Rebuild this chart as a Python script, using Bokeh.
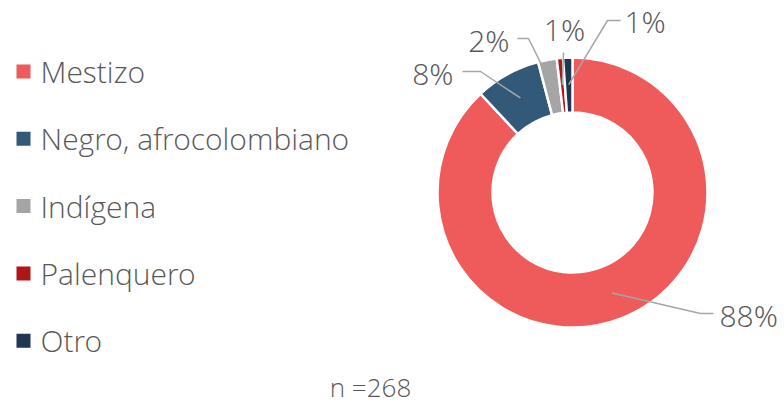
import math
from bokeh.plotting import figure
from bokeh.models import Range1d
from bokeh.core.properties import value
from bokeh.embed import file_html
from bokeh.resources import INLINE

# ---- data ----
categories = ["Mestizo", "Negro, afrocolombiano", "Indígena", "Palenquero", "Otro"]
counts = [236, 21, 6, 2, 3]
n_total = 268
colors = ["#EF5A5B", "#325A78", "#A5A5A5", "#B01518", "#1F3750"]

# ---- layout (page pixels, y down) ----
W, H = 784, 403
FONT = "Open Sans Light"
TXT = "#595959"
cx_s, cy_s = 572, 192
r_out, r_in = 135, 80
r_lead = 108
elbow1 = [(700, 313), (480, 71), (528, 38), (563, 52), (607, 20)]
elbow2 = [(713, 313), (462, 71), (517, 38), (563, 52), (620, 20)]
label_pos = [(719, 315), (453, 73), (509, 40), (564, 29), (624, 21)]
label_align = ["left", "right", "right", "center", "left"]

def X(sx):
    return sx

def Y(sy):
    return H - sy

p = figure(width=W, height=H, output_backend="svg", toolbar_location=None,
           x_range=Range1d(0, W), y_range=Range1d(0, H), min_border=0)
p.axis.visible = False
p.grid.visible = False
p.outline_line_color = None
p.background_fill_color = "white"

total = sum(counts)
cum = 0.0
starts, ends, mids = [], [], []
for c in counts:
    f0 = cum / total
    cum += c
    f1 = cum / total
    starts.append(math.pi / 2 - f1 * 2 * math.pi)
    ends.append(math.pi / 2 - f0 * 2 * math.pi)
    mids.append(math.pi / 2 - (f0 + f1) / 2 * 2 * math.pi)

cx, cy = X(cx_s), Y(cy_s)
p.annular_wedge(x=[cx] * len(counts), y=[cy] * len(counts), inner_radius=r_in,
                outer_radius=r_out, start_angle=starts, end_angle=ends,
                fill_color=colors, line_color="white", line_width=2.5)

for i, c in enumerate(counts):
    pct = round(100 * c / total)
    x0 = cx + r_lead * math.cos(mids[i])
    y0 = cy + r_lead * math.sin(mids[i])
    xs = [x0, X(elbow1[i][0]), X(elbow2[i][0])]
    ys = [y0, Y(elbow1[i][1]), Y(elbow2[i][1])]
    p.line(xs, ys, line_color="#A6A6A6", line_width=1.5)
    p.text(x=[X(label_pos[i][0])], y=[Y(label_pos[i][1])], text=[f"{pct}%"],
           text_font=value(FONT), text_font_size="30px", text_color=TXT,
           text_align=label_align[i], text_baseline="middle")

leg_x = 23
leg_y0 = 71
leg_dy = 67.3
for i, cat in enumerate(categories):
    yy = Y(leg_y0 + i * leg_dy)
    p.scatter(x=[X(leg_x)], y=[yy], marker="square", size=14,
              fill_color=colors[i], line_color=None)
    p.text(x=[X(40)], y=[yy], text=[cat], text_font=value(FONT),
           text_font_size="30px", text_color=TXT, text_baseline="middle")

p.text(x=[X(370)], y=[Y(386)], text=[f"n ={n_total}"], text_font=value(FONT),
       text_font_size="26px", text_color=TXT, text_align="center",
       text_baseline="middle")

open("out.html", "w").write(file_html(p, INLINE))
